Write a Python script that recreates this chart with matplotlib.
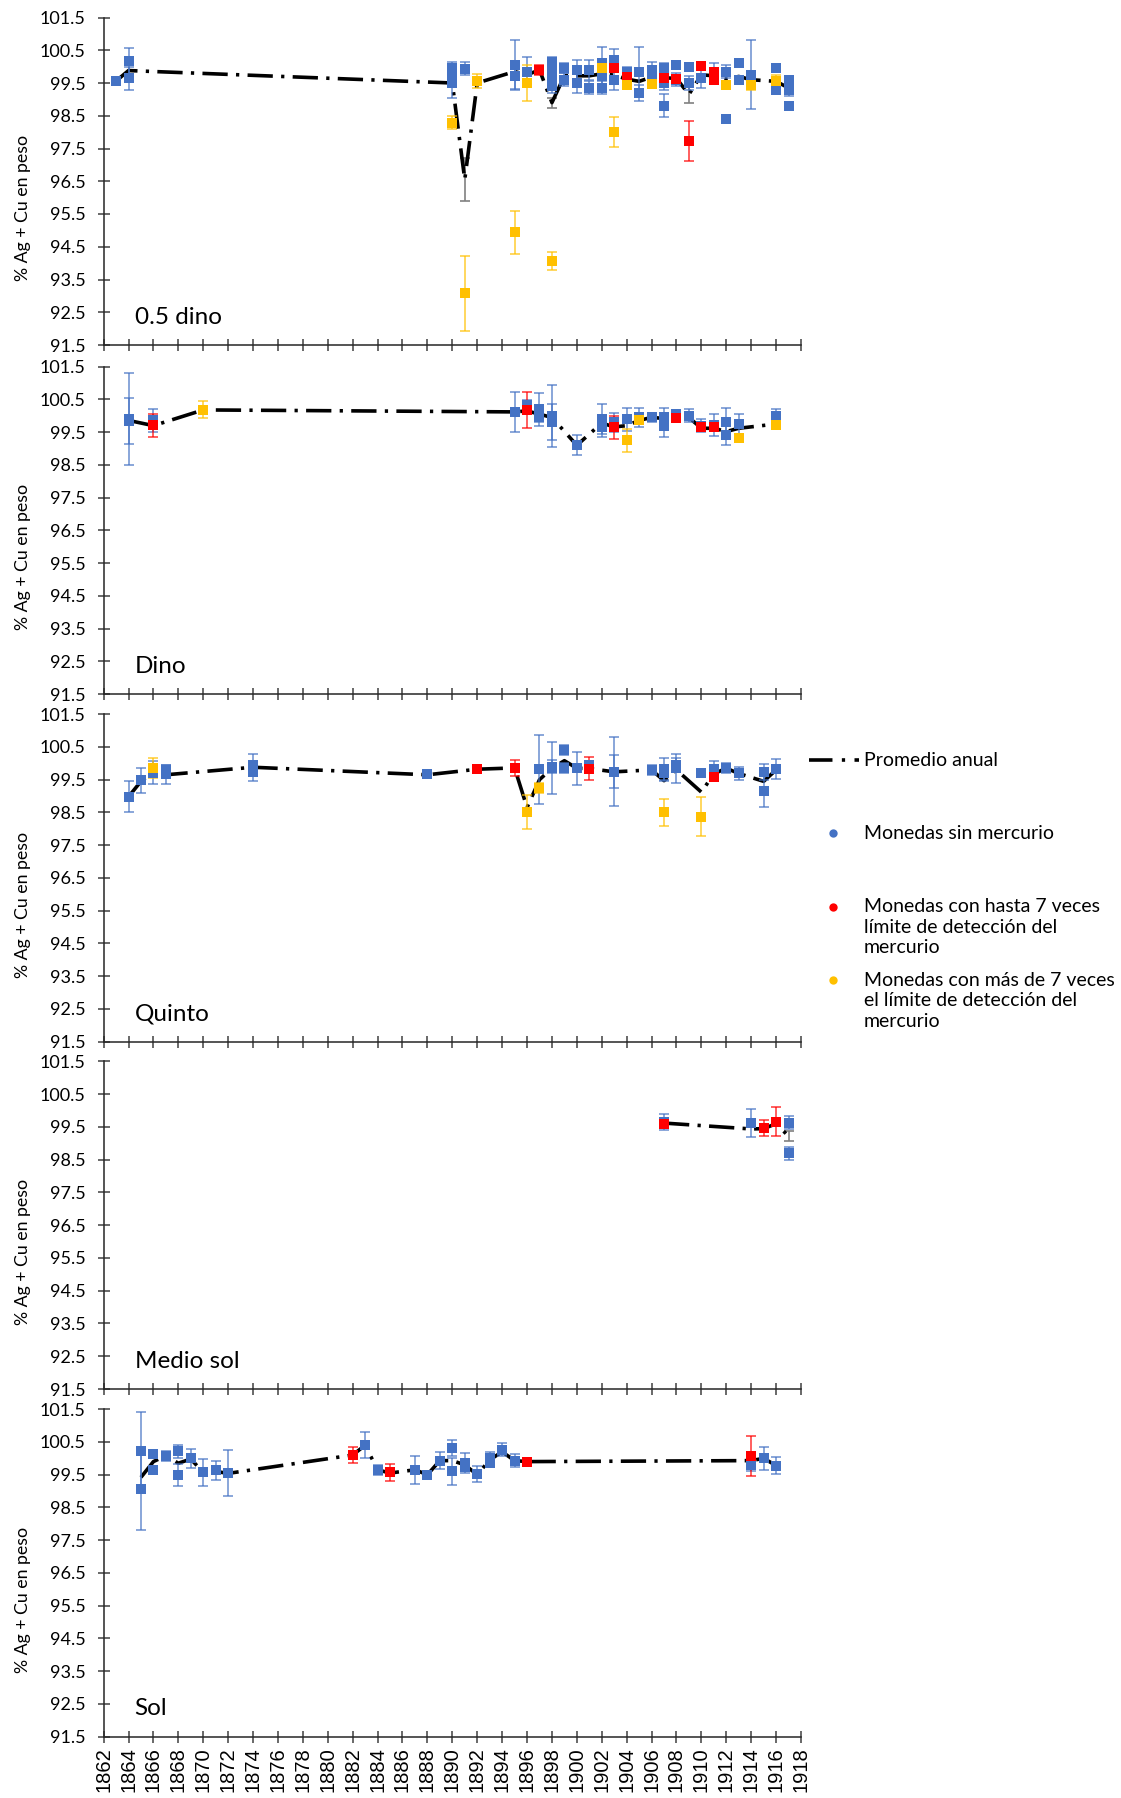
import matplotlib
matplotlib.use("Agg")
import matplotlib.pyplot as plt
from matplotlib.lines import Line2D

plt.rcParams['font.family'] = ['Lato', 'DejaVu Sans']

# ---------------- DATA ----------------
panel_names = ["0.5 dino", "Dino", "Quinto", "Medio sol", "Sol"]
year_ticks = list(range(1862, 1919, 2))
y_ticks = [91.5, 92.5, 93.5, 94.5, 95.5, 96.5, 97.5, 98.5, 99.5, 100.5, 101.5]
y_label = "% Ag + Cu en peso"
legend_labels = ["Promedio anual", "Monedas sin mercurio",
                 "Monedas con hasta 7 veces\nlímite de detección del\nmercurio",
                 "Monedas con más de 7 veces\nel límite de detección del\nmercurio"]

# 0.5 dino
d05_blue_year = [1863, 1864, 1864, 1890, 1890, 1890, 1890, 1891, 1895, 1895, 1896,
                 1898, 1898, 1898, 1898, 1899, 1899, 1900, 1900, 1901, 1901,
                 1902, 1902, 1902, 1903, 1903, 1904, 1905, 1905, 1906, 1906,
                 1907, 1907, 1907, 1908, 1908, 1909, 1909, 1910, 1911, 1912, 1912,
                 1913, 1913, 1914, 1916, 1916, 1917, 1917, 1917]
d05_blue_val = [99.56, 100.18, 99.64, 99.95, 99.8, 99.6, 99.5, 99.93, 100.05, 99.71, 99.85,
                100.15, 99.9, 99.6, 99.4, 99.95, 99.6, 99.9, 99.5, 99.9, 99.35,
                100.1, 99.7, 99.35, 100.2, 99.6, 99.85, 99.85, 99.2, 99.9, 99.65,
                99.95, 99.5, 98.8, 100.05, 99.6, 100.0, 99.5, 99.65, 99.85, 99.85, 98.4,
                100.1, 99.6, 99.75, 99.95, 99.3, 99.6, 99.3, 98.8]
d05_blue_err = [0.05, 0.4, 0.35, 0.2, 0.2, 0.2, 0.45, 0.2, 0.75, 0.4, 0.45,
                0.15, 0.2, 0.2, 0.2, 0.15, 0.2, 0.3, 0.3, 0.3, 0.2,
                0.5, 0.3, 0.2, 0.35, 0.3, 0.15, 0.75, 0.25, 0.25, 0.2,
                0.15, 0.2, 0.35, 0.1, 0.2, 0.05, 0.2, 0.3, 0.25, 0.2, 0.05,
                0.1, 0.1, 1.05, 0.1, 0.15, 0.1, 0.2, 0.05]
d05_red_year = [1897, 1903, 1904, 1907, 1908, 1909, 1910, 1911, 1911]
d05_red_val = [99.9, 99.97, 99.67, 99.66, 99.61, 97.73, 100.02, 99.85, 99.6]
d05_red_err = [0.15, 0.1, 0.1, 0.1, 0.1, 0.6, 0.05, 0.05, 0.05]
d05_yel_year = [1890, 1891, 1892, 1895, 1896, 1898, 1902, 1903, 1904, 1906, 1912, 1914, 1916]
d05_yel_val = [98.29, 93.08, 99.56, 94.94, 99.49, 94.06, 99.95, 98.01, 99.44, 99.46, 99.44, 99.44, 99.55]
d05_yel_err = [0.2, 1.15, 0.22, 0.65, 0.55, 0.27, 0.1, 0.45, 0.1, 0.1, 0.1, 0.15, 0.2]
d05_avg_year = [1863, 1864, 1890, 1891, 1892, 1895, 1896, 1897, 1898, 1899, 1900, 1901,
                1902, 1903, 1904, 1905, 1906, 1907, 1908, 1909, 1910, 1911, 1912,
                1913, 1914, 1916, 1917]
d05_avg_val = [99.56, 99.88, 99.5, 96.55, 99.5, 99.85, 99.75, 99.9, 98.9, 99.72, 99.72, 99.72,
               99.78, 99.74, 99.62, 99.55, 99.68, 99.66, 99.64, 99.15, 99.75, 99.72, 99.62,
               99.7, 99.6, 99.55, 99.35]
d05_avg_err = [0, 0, 0, 0.65, 0, 0, 0, 0, 0.15, 0, 0, 0,
               0, 0, 0, 0, 0, 0, 0, 0.25, 0, 0, 0,
               0, 0, 0, 0]

# Dino
dino_blue_year = [1864, 1864, 1866, 1895, 1896, 1897, 1897, 1898, 1898, 1900, 1902, 1902,
                  1903, 1904, 1905, 1906, 1907, 1907, 1908, 1909, 1910, 1911, 1912, 1912,
                  1913, 1916]
dino_blue_val = [99.9, 99.85, 99.87, 100.12, 100.33, 100.2, 99.95, 100.0, 99.8, 99.11, 99.9, 99.65,
                 99.8, 99.9, 99.95, 99.95, 99.95, 99.7, 100.05, 100.0, 99.7, 99.72, 99.8, 99.4,
                 99.75, 100.0]
dino_blue_err = [1.4, 0.7, 0.35, 0.6, 0.15, 0.5, 0.15, 0.95, 0.55, 0.3, 0.45, 0.3,
                 0.3, 0.35, 0.3, 0.15, 0.3, 0.35, 0.1, 0.2, 0.2, 0.35, 0.45, 0.3,
                 0.3, 0.2]
dino_red_year = [1866, 1896, 1903, 1908, 1910, 1911]
dino_red_val = [99.71, 100.17, 99.65, 99.92, 99.65, 99.65]
dino_red_err = [0.35, 0.55, 0.35, 0.05, 0.1, 0.1]
dino_yel_year = [1870, 1904, 1905, 1913, 1916]
dino_yel_val = [100.19, 99.26, 99.87, 99.33, 99.72]
dino_yel_err = [0.25, 0.35, 0.1, 0.1, 0.05]
dino_avg_year = [1864, 1866, 1870, 1895, 1896, 1897, 1898, 1900, 1902, 1903, 1904, 1905,
                 1906, 1907, 1908, 1909, 1910, 1911, 1912, 1913, 1916]
dino_avg_val = [99.86, 99.7, 100.18, 100.12, 100.15, 100.05, 99.95, 99.1, 99.78, 99.66, 99.7, 99.86,
                99.95, 99.92, 99.93, 99.95, 99.62, 99.62, 99.52, 99.62, 99.75]
dino_avg_err = [0] * 21

# Quinto
quinto_blue_year = [1864, 1865, 1866, 1867, 1867, 1874, 1874, 1888, 1897, 1898, 1898, 1899, 1899,
                    1900, 1901, 1903, 1903, 1906, 1907, 1907, 1908, 1908, 1910, 1911, 1912,
                    1913, 1915, 1915, 1916]
quinto_blue_val = [98.98, 99.48, 99.71, 99.66, 99.8, 99.95, 99.75, 99.66, 99.82, 99.85, 99.9, 100.41, 99.85,
                   99.85, 99.95, 99.74, 99.75, 99.8, 99.82, 99.7, 99.85, 99.95, 99.69, 99.82, 99.85,
                   99.69, 99.74, 99.16, 99.82]
quinto_blue_err = [0.47, 0.38, 0.35, 0.3, 0.15, 0.35, 0.3, 0.05, 1.05, 0.8, 0.2, 0.15, 0.15,
                   0.5, 0.05, 1.05, 0.5, 0.15, 0.35, 0.2, 0.45, 0.2, 0.05, 0.25, 0.15,
                   0.2, 0.25, 0.5, 0.3]
quinto_red_year = [1892, 1895, 1901, 1911]
quinto_red_val = [99.83, 99.85, 99.83, 99.59]
quinto_red_err = [0.12, 0.25, 0.35, 0.1]
quinto_yel_year = [1866, 1896, 1897, 1907, 1910]
quinto_yel_val = [99.85, 98.5, 99.24, 98.5, 98.37]
quinto_yel_err = [0.3, 0.52, 0.15, 0.4, 0.6]
quinto_avg_year = [1864, 1865, 1866, 1867, 1874, 1888, 1892, 1895, 1896, 1897, 1898, 1899,
                   1900, 1901, 1903, 1906, 1907, 1908, 1910, 1911, 1912, 1913, 1915, 1916]
quinto_avg_val = [98.98, 99.45, 99.75, 99.65, 99.88, 99.65, 99.82, 99.86, 98.65, 99.5, 99.85, 100.08,
                  99.85, 99.84, 99.74, 99.8, 99.47, 99.8, 99.12, 99.68, 99.85, 99.69, 99.45, 99.8]
quinto_avg_err = [0] * 24

# Medio sol
msol_blue_year = [1907, 1914, 1917, 1917]
msol_blue_val = [99.66, 99.61, 99.63, 98.7]
msol_blue_err = [0.25, 0.43, 0.2, 0.2]
msol_red_year = [1907, 1915, 1916]
msol_red_val = [99.59, 99.46, 99.66]
msol_red_err = [0.1, 0.25, 0.45]
msol_yel_year = []
msol_yel_val = []
msol_yel_err = []
msol_avg_year = [1907, 1914, 1915, 1916, 1917]
msol_avg_val = [99.62, 99.44, 99.45, 99.6, 99.22]
msol_avg_err = [0, 0, 0, 0, 0.15]

# Sol
sol_blue_year = [1865, 1865, 1866, 1866, 1867, 1868, 1868, 1869, 1870, 1871, 1872, 1883, 1884,
                 1887, 1888, 1889, 1890, 1890, 1891, 1891, 1892, 1893, 1893, 1894, 1895,
                 1914, 1915, 1916]
sol_blue_val = [100.23, 99.06, 100.13, 99.65, 100.08, 100.21, 99.49, 100.0, 99.57, 99.63, 99.54, 100.41, 99.65,
                99.65, 99.49, 99.93, 100.31, 99.6, 99.85, 99.72, 99.52, 100.0, 99.85, 100.26, 99.93,
                99.8, 100.0, 99.78]
sol_blue_err = [1.17, 1.24, 0.1, 0.1, 0.15, 0.2, 0.35, 0.3, 0.4, 0.28, 0.7, 0.4, 0.15,
                0.43, 0.1, 0.25, 0.25, 0.4, 0.3, 0.1, 0.25, 0.2, 0.1, 0.2, 0.2,
                0.2, 0.35, 0.25]
sol_red_year = [1882, 1885, 1896, 1914]
sol_red_val = [100.1, 99.57, 99.9, 100.07]
sol_red_err = [0.25, 0.25, 0.05, 0.62]
sol_yel_year = []
sol_yel_val = []
sol_yel_err = []
sol_avg_year = [1865, 1866, 1867, 1868, 1869, 1870, 1871, 1872, 1882, 1883, 1884, 1885, 1887,
                1888, 1889, 1890, 1891, 1892, 1893, 1894, 1895, 1896, 1914, 1915, 1916]
sol_avg_val = [99.42, 99.9, 100.08, 99.85, 99.98, 99.57, 99.6, 99.54, 100.1, 100.4, 99.65, 99.55, 99.65,
               99.5, 99.93, 99.93, 99.8, 99.5, 99.95, 100.2, 99.93, 99.9, 99.93, 100.0, 99.78]
sol_avg_err = [0] * 25

panels = [
    (d05_blue_year, d05_blue_val, d05_blue_err, d05_red_year, d05_red_val, d05_red_err,
     d05_yel_year, d05_yel_val, d05_yel_err, d05_avg_year, d05_avg_val, d05_avg_err),
    (dino_blue_year, dino_blue_val, dino_blue_err, dino_red_year, dino_red_val, dino_red_err,
     dino_yel_year, dino_yel_val, dino_yel_err, dino_avg_year, dino_avg_val, dino_avg_err),
    (quinto_blue_year, quinto_blue_val, quinto_blue_err, quinto_red_year, quinto_red_val, quinto_red_err,
     quinto_yel_year, quinto_yel_val, quinto_yel_err, quinto_avg_year, quinto_avg_val, quinto_avg_err),
    (msol_blue_year, msol_blue_val, msol_blue_err, msol_red_year, msol_red_val, msol_red_err,
     msol_yel_year, msol_yel_val, msol_yel_err, msol_avg_year, msol_avg_val, msol_avg_err),
    (sol_blue_year, sol_blue_val, sol_blue_err, sol_red_year, sol_red_val, sol_red_err,
     sol_yel_year, sol_yel_val, sol_yel_err, sol_avg_year, sol_avg_val, sol_avg_err),
]

# ---------------- STYLE ----------------
BLUE = "#4472C4"
RED = "#FF0000"
YEL = "#FFC000"
GRAY = "#808080"
DASHDOT = (0, (7, 2.3, 0.9, 2.3))

W, H = 1121, 1798
fig = plt.figure(figsize=(W / 100, H / 100), dpi=100)

left_px, right_px = 103.6, 801.0
tops_px = [17.5, 366.7, 714.2, 1061.5, 1409.2]
ph = 327.5

for i, (name, data) in enumerate(zip(panel_names, panels)):
    top = tops_px[i]
    ax = fig.add_axes([left_px / W, 1 - (top + ph) / H, (right_px - left_px) / W, ph / H])
    (bx, by, be, rx, ry, re_, yx, yy, ye, ax_, ay, ae) = data

    # average line
    ax.plot(ax_, ay, color="black", lw=2.6, linestyle=DASHDOT, zorder=2)
    ae_x = [x for x, e in zip(ax_, ae) if e > 0]
    ae_y = [y for y, e in zip(ay, ae) if e > 0]
    ae_e = [e for e in ae if e > 0]
    if ae_x:
        ax.errorbar(ae_x, ae_y, yerr=ae_e, fmt="none", ecolor=GRAY, elinewidth=1.2,
                    capsize=3.5, capthick=1.2, zorder=1.5)

    for xs, ys, es, col in [(bx, by, be, BLUE), (rx, ry, re_, RED), (yx, yy, ye, YEL)]:
        if not xs:
            continue
        ax.errorbar(xs, ys, yerr=es, fmt="none", ecolor=col, elinewidth=1.1,
                    capsize=3.5, capthick=1.1, alpha=0.8, zorder=2.5)
        ax.plot(xs, ys, linestyle="none", marker="s", markersize=7.3,
                color=col, markeredgewidth=0, zorder=3)

    ax.set_xlim(1862, 1918)
    ax.set_ylim(91.5, 101.5)
    ax.set_yticks(y_ticks)
    ax.set_yticklabels([f"{v:.1f}" for v in y_ticks], fontsize=13)
    ax.set_xticks(year_ticks)
    for s in ["top", "right"]:
        ax.spines[s].set_visible(False)
    for s in ["left", "bottom"]:
        ax.spines[s].set_color("#262626")
        ax.spines[s].set_linewidth(1.1)
    ax.tick_params(axis="both", direction="inout", length=9, width=1.1, color="#404040")
    ax.tick_params(axis="y", pad=8.5)
    if i < 4:
        ax.set_xticklabels([])
    else:
        ax.set_xticklabels([str(y) for y in year_ticks], rotation=90,
                           fontsize=14.5, family="Liberation Sans")
        ax.tick_params(axis="x", pad=3)
    ax.set_ylabel(y_label, fontsize=12.8)
    ax.yaxis.set_label_coords(-0.104, 0.418)
    ax.text(1864.5, 92.35, name, fontsize=17.5, va="center", ha="left")
    ax.patch.set_alpha(0)

# ---------------- LEGEND ----------------
def fx(px):
    return px / W

def fy(py):
    return 1 - py / H

fig.add_artist(Line2D([fx(809), fx(859)], [fy(760), fy(760)], color="black", lw=2.6,
                      linestyle=(0, (6.5, 2.6, 0.9, 2.6)), transform=fig.transFigure))
legend_rows = [(760, None, legend_labels[0]), (833, BLUE, legend_labels[1]),
               (906.6, RED, legend_labels[2]), (980, YEL, legend_labels[3])]
line_pitch = 20.6
for (cy, col, lab) in legend_rows:
    if col is not None:
        fig.add_artist(Line2D([fx(833)], [fy(cy)], marker="o", markersize=6, color=col,
                              linestyle="none", markeredgewidth=0, transform=fig.transFigure))
    for k, line in enumerate(lab.split("\n")):
        fig.text(fx(864), fy(cy + k * line_pitch), line, fontsize=14,
                 va="center", ha="left")

fig.savefig("out.png", dpi=100)
